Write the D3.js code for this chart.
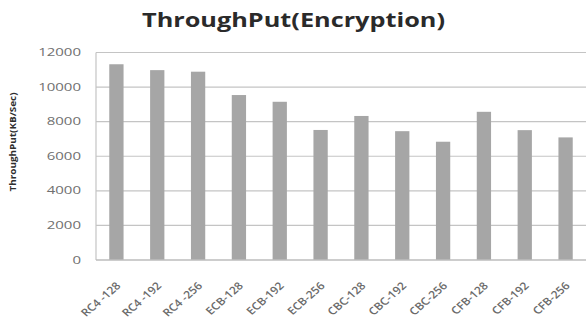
<!DOCTYPE html>
<html>
<head>
<meta charset="utf-8">
<script src="https://cdn.jsdelivr.net/npm/d3@7"></script>
<style>
  html, body { margin: 0; padding: 0; background: #fff; }
  svg { display: block; }
</style>
</head>
<body>
<svg id="chart" width="586" height="325"></svg>
<script>
const categories = ["RC4 -128", "RC4 -192", "RC4 -256", "ECB-128", "ECB-192", "ECB-256",
                    "CBC-128", "CBC-192", "CBC-256", "CFB-128", "CFB-192", "CFB-256"];
const throughput = [11320, 10980, 10890, 9540, 9150, 7520, 8330, 7450, 6840, 8570, 7510, 7090];
const yTicks = [0, 2000, 4000, 6000, 8000, 10000, 12000];
const titleText = "ThroughPut(Encryption)";
const yTitleText = "ThroughPut(KB/Sec)";

const svg = d3.select("#chart");
const plotLeft = 96, plotRight = 586, plotTop = 52.5, plotBottom = 260;

const x = d3.scaleBand().domain(categories).range([plotLeft, plotRight]).padding(0);
const y = d3.scaleLinear().domain([0, 12000]).range([plotBottom, plotTop]);

// gridlines
svg.append("g").selectAll("line").data(yTicks.filter(d => d > 0)).join("line")
  .attr("x1", plotLeft).attr("x2", plotRight)
  .attr("y1", d => y(d)).attr("y2", d => y(d))
  .attr("stroke", "#c4c4c4").attr("stroke-width", 1.2);

// left axis line
svg.append("line").attr("x1", plotLeft).attr("x2", plotLeft).attr("y1", plotTop).attr("y2", plotBottom)
  .attr("stroke", "#c4c4c4").attr("stroke-width", 1.2);

// bars
const barW = x.bandwidth() * 0.35;
svg.append("g").selectAll("rect").data(throughput).join("rect")
  .attr("x", (d, i) => x(categories[i]) + x.bandwidth() / 2 - barW / 2)
  .attr("width", barW)
  .attr("y", d => y(d))
  .attr("height", d => y(0) - y(d))
  .attr("fill", "#a6a6a6");

// x axis line
svg.append("line").attr("x1", plotLeft).attr("x2", plotRight).attr("y1", plotBottom).attr("y2", plotBottom)
  .attr("stroke", "#bdbdbd").attr("stroke-width", 1.5);

// y tick labels
svg.append("g").selectAll("g").data(yTicks).join("g")
  .attr("transform", d => `translate(81,${y(d)}) scale(1.5,1)`)
  .append("text")
  .attr("text-anchor", "end")
  .attr("dy", "0.35em")
  .attr("font-family", "Open Sans")
  .attr("font-size", 10)
  .attr("fill", "#707070")
  .text(d => d);

// x labels
svg.append("g").selectAll("g").data(categories).join("g")
  .attr("transform", d => `translate(${x(d) + x.bandwidth() / 2 + 2},${284}) scale(1.15,1) rotate(-45)`)
  .append("text")
  .attr("text-anchor", "end")
  .attr("dy", "0.35em")
  .attr("font-family", "Open Sans")
  .attr("font-weight", 600)
  .attr("font-size", 10.5)
  .attr("fill", "#6a6a6a")
  .text(d => d);

// title
svg.append("text")
  .attr("x", 293.5).attr("y", 27)
  .attr("text-anchor", "middle")
  .attr("font-family", "Open Sans")
  .attr("font-weight", "bold")
  .attr("font-size", 20)
  .attr("fill", "#2a2a2a")
  .attr("textLength", 303)
  .attr("lengthAdjust", "spacingAndGlyphs")
  .text(titleText);

// y axis title
svg.append("text")
  .attr("transform", "translate(16,142) rotate(-90)")
  .attr("text-anchor", "middle")
  .attr("font-family", "Open Sans")
  .attr("font-weight", "bold")
  .attr("font-size", 8)
  .attr("fill", "#2e2e2e")
  .attr("textLength", 99)
  .attr("lengthAdjust", "spacingAndGlyphs")
  .text(yTitleText);
</script>
</body>
</html>
